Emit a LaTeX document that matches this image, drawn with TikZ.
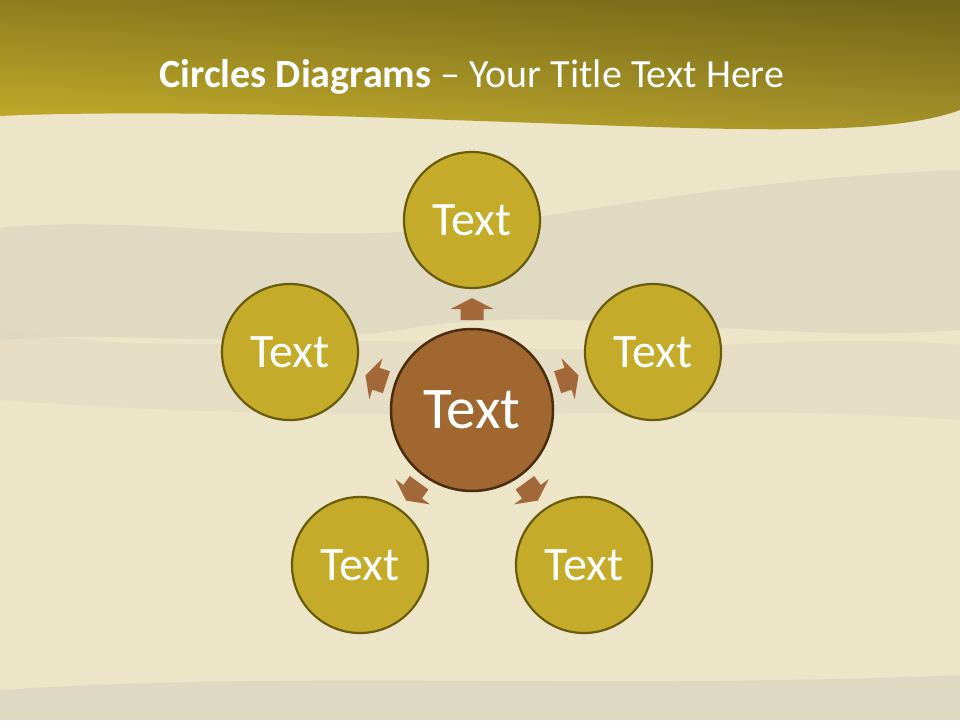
\documentclass[tikz,border=0pt]{standalone}
\usepackage{fontspec}
\setmainfont{Carlito}
\usetikzlibrary{fadings,shadings}
\definecolor{bgbase}{HTML}{ECE5C7}
\definecolor{bggray}{HTML}{D6D1BF}
\definecolor{bandUL}{HTML}{8E7E1E}
\definecolor{bandUR}{HTML}{736418}
\definecolor{bandLL}{HTML}{C9B12B}
\definecolor{bandLR}{HTML}{A8962A}
\definecolor{outerfill}{HTML}{C4AC2A}
\definecolor{outerdraw}{HTML}{6A5A0C}
\definecolor{centerfill}{HTML}{A06830}
\definecolor{centerdraw}{HTML}{4A2C0E}
\definecolor{arrowfill}{HTML}{A2683A}
\tikzset{
  outercircle/.style={circle, fill=outerfill, draw=outerdraw, line width=2.2pt,
    minimum size=136pt, inner sep=0pt, text=white, font=\fontsize{48}{52}\selectfont},
  centercircle/.style={circle, fill=centerfill, draw=centerdraw, line width=2.5pt,
    minimum size=162pt, inner sep=0pt, text=white, font=\fontsize{59}{64}\selectfont},
  blockarrow/.style={fill=arrowfill, draw=none}
}
\begin{document}
\begin{tikzpicture}[x=1pt,y=1pt]
\useasboundingbox (0,-720) rectangle (960,0);
% background
\fill[bgbase] (0,-720) rectangle (960,0);
\fill[bggray, opacity=0.5] (0,-228) .. controls (120,-215) and (250,-240) .. (400,-232)
  .. controls (560,-222) and (700,-180) .. (960,-170) -- (960,-330)
  .. controls (760,-345) and (560,-300) .. (400,-330) .. controls (250,-350) and (120,-330) .. (0,-340) -- cycle;
\fill[bggray, opacity=0.3] (0,-330) .. controls (200,-360) and (300,-330) .. (450,-345)
  .. controls (650,-360) and (800,-330) .. (960,-345) -- (960,-420) .. controls (700,-400) and (400,-430) .. (0,-400) -- cycle;
\fill[bggray, opacity=0.6] (0,-690) .. controls (300,-670) and (600,-690) .. (960,-675) -- (960,-720) -- (0,-720) -- cycle;
% title band
\shade[upper left=bandUL, upper right=bandUR, lower left=bandLL, lower right=bandLR]
  (0,0) -- (960,0) -- (960,-110)
  .. controls (880,-140) and (700,-128) .. (450,-120)
  .. controls (250,-112) and (80,-112) .. (0,-116) -- cycle;
\node[text=white, font=\fontsize{40}{44}\selectfont, anchor=base] (title) at (472,-87)
  {\textbf{Circles Diagrams} – Your Title Text Here};
% circles
\node[centercircle] (c) at (472,-410) {Text};
\node[outercircle] (n1) at (472,-220) {Text};
\node[outercircle] (n2) at (653,-352) {Text};
\node[outercircle] (n3) at (584,-565) {Text};
\node[outercircle] (n4) at (360,-565) {Text};
\node[outercircle] (n5) at (290,-352) {Text};
% block arrows
\foreach \ang in {90,18,-54,-126,162} {
  \begin{scope}[shift={(c.center)}, rotate=\ang]
    \fill[blockarrow] (90,-11.5) -- (101,-11.5) -- (101,-21.5) -- (112,0)
      -- (101,21.5) -- (101,11.5) -- (90,11.5) -- cycle;
  \end{scope}
}
\end{tikzpicture}
\end{document}
